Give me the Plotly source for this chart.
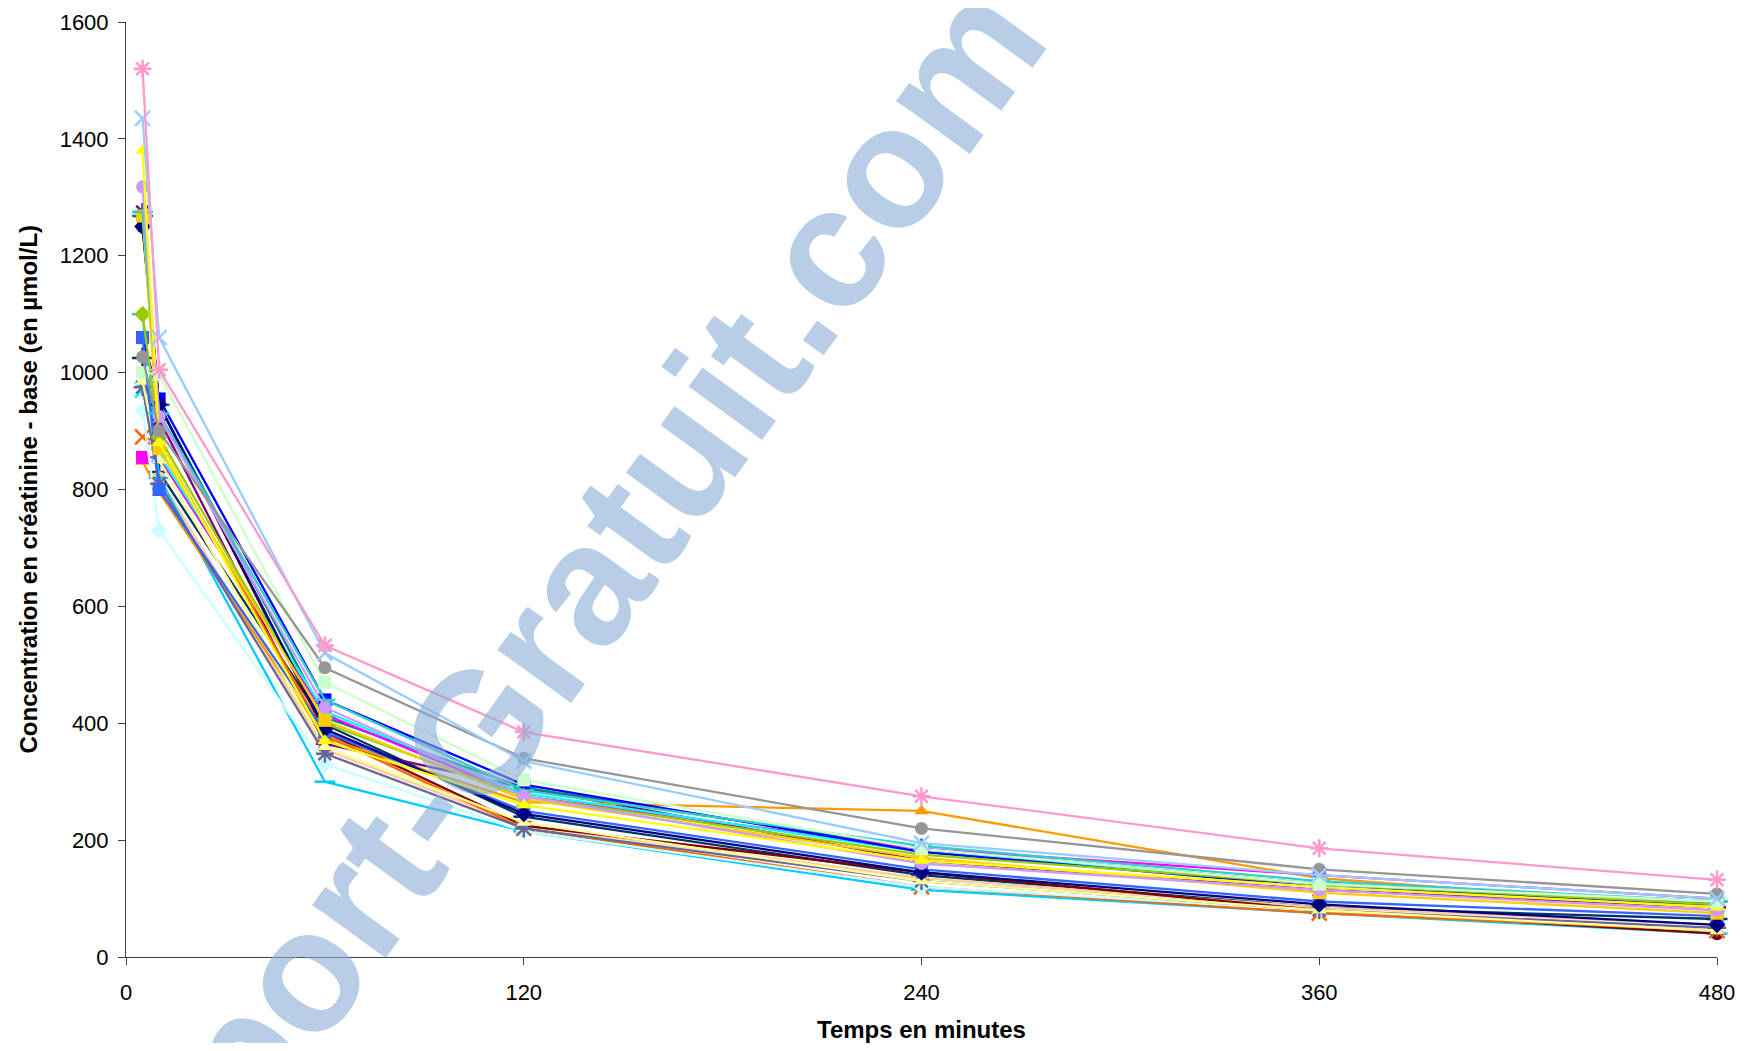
import plotly.graph_objects as go

# Time points (minutes)
temps = [5, 10, 60, 120, 240, 360, 480]

# Series: values (creatinine - base, µmol/L)
s01 = [1520, 1005, 533, 385, 275, 186, 132]
s02 = [1435, 1060, 520, 335, 195, 140, 100]
s03 = [1027, 900, 495, 340, 220, 150, 108]
s04 = [1000, 997, 470, 303, 185, 125, 95]
s05 = [1380, 880, 370, 260, 165, 120, 85]
s06 = [1318, 925, 427, 275, 160, 115, 80]
s07 = [1275, 930, 440, 285, 190, 130, 95]
s08 = [1268, 870, 405, 270, 170, 110, 75]
s09 = [1250, 945, 390, 245, 145, 90, 55]
s10 = [1100, 890, 400, 275, 175, 125, 90]
s11 = [1060, 800, 385, 250, 150, 95, 70]
s12 = [1060, 955, 440, 295, 180, 120, 90]
s13 = [985, 850, 360, 230, 130, 80, 45]
s14 = [975, 810, 348, 220, 130, 80, 50]
s15 = [970, 860, 420, 280, 180, 125, 90]
s16 = [935, 730, 330, 215, 120, 80, 50]
s17 = [890, 880, 380, 220, 120, 75, 45]
s18 = [855, 855, 415, 275, 185, 140, 100]
s19 = [848, 795, 375, 265, 250, 135, 85]
s20 = [1250, 945, 385, 225, 145, 80, 40]
s21 = [1268, 945, 410, 290, 185, 125, 95]
s22 = [1275, 920, 365, 290, 165, 115, 85]
s23 = [1100, 820, 300, 215, 115, 75, 40]
s24 = [1000, 820, 355, 225, 135, 85, 55]
s25 = [1025, 830, 398, 240, 140, 85, 65]

series = [s01, s02, s03, s04, s05, s06, s07, s08, s09, s10, s11, s12, s13,
          s14, s15, s16, s17, s18, s19, s20, s21, s22, s23, s24, s25]

colors = ["#FF99CC", "#99CCFF", "#969696", "#CCFFCC", "#FFFF00", "#CC99FF",
          "#33CCCC", "#FFCC00", "#000080", "#99CC00", "#3366FF", "#0000FF",
          "#FFFF99", "#666699", "#00FFFF", "#CCFFFF", "#FF6600", "#FF00FF",
          "#FF9900", "#800000", "#008080", "#800080", "#00CCFF", "#FFCC99",
          "#003366"]

symbols = ["asterisk-open", "x-thin-open", "circle", "square", "triangle-up",
           "circle", "line-ew-open", "square", "diamond", "diamond",
           "square", "square", "triangle-up", "asterisk-open", "x-thin-open",
           "diamond", "x-thin-open", "square", "triangle-up", "circle",
           "cross-thin-open", "asterisk-open", "line-ew-open", "circle",
           "cross-thin-open"]

fig = go.Figure()

order = list(range(len(series)))[::-1]
for i in order:
    sym = symbols[i]
    col = colors[i]
    if sym.endswith("-open"):
        marker = dict(symbol=sym, size=15, color=col, line=dict(color=col, width=2.5))
    else:
        marker = dict(symbol=sym, size=13, color=col, line=dict(width=0))
    fig.add_trace(go.Scatter(
        x=temps, y=series[i], mode="lines+markers",
        line=dict(color=col, width=2.3), marker=marker,
        cliponaxis=False, showlegend=False, name=f"Série {i+1}"))

W, H = 1737, 1035
L, R, T, B = 118, 28, 14, 86
PW, PH = W - R - L, H - B - T

# watermark
fig.add_annotation(
    text="<b>Rapport-Gratuit.com</b>", xref="paper", yref="paper",
    x=(502 - L) / PW, y=(H - B - 677) / PH,
    xanchor="center", yanchor="middle",
    showarrow=False, textangle=-54,
    font=dict(family="Liberation Sans, Arial", size=172, color="rgba(137,173,213,0.6)"))

# y-axis title
fig.add_annotation(
    text="<b>Concentration en créatinine - base (en µmol/L)</b>",
    xref="paper", yref="paper", x=(20 - L) / PW, y=0.5,
    xanchor="center", yanchor="middle", showarrow=False, textangle=-90,
    font=dict(family="Liberation Sans, Arial", size=24, color="black"))

fig.update_layout(
    width=W, height=H,
    margin=dict(l=L, r=R, t=T, b=B, autoexpand=False),
    paper_bgcolor="white", plot_bgcolor="white",
    font=dict(family="Liberation Sans, Arial", size=22, color="black"),
    xaxis=dict(range=[0, 480], tickvals=[0, 120, 240, 360, 480], automargin=False,
               showgrid=False, zeroline=False, showline=True, linecolor="#404040",
               linewidth=1, ticks="outside", ticklen=7, tickcolor="#404040",
               tickfont=dict(size=22), ticklabelstandoff=9,
               title=dict(text="<b>Temps en minutes</b>", font=dict(size=24), standoff=30)),
    yaxis=dict(range=[0, 1600], tickvals=list(range(0, 1601, 200)), automargin=False,
               showgrid=False, zeroline=False, showline=True, linecolor="#404040",
               linewidth=1, ticks="outside", ticklen=7, tickcolor="#404040",
               tickfont=dict(size=22), ticklabelstandoff=5),
)

fig.write_html("out.html")
